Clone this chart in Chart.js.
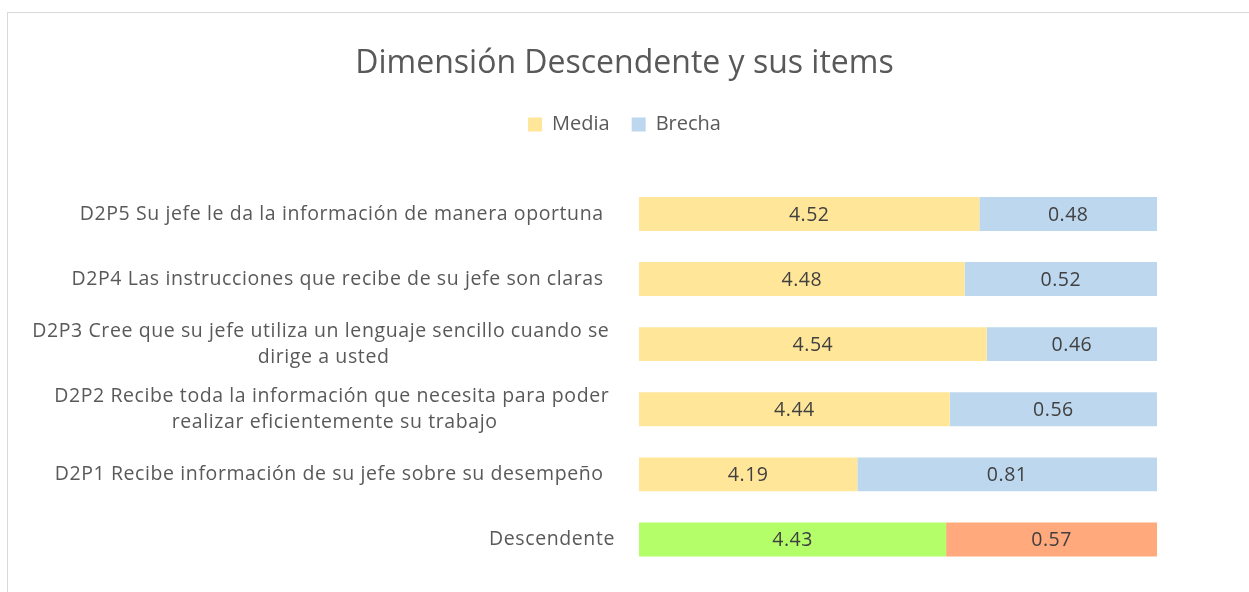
<!DOCTYPE html>
<html>
<head>
<meta charset="utf-8">
<script src="https://cdn.jsdelivr.net/npm/chart.js@4"></script>
<style>
    html, body { margin: 0; padding: 0; background: #ffffff; }
    #wrap { position: relative; width: 1249px; height: 592px; overflow: hidden; }
    #frame { position: absolute; left: 7px; top: 12px; width: 1300px; height: 700px; border: 1px solid #d9d9d9; box-sizing: border-box; }
    canvas { position: absolute; left: 0; top: 0; }
</style>
</head>
<body>
<div id="wrap">
    <div id="frame"></div>
    <canvas id="chart" width="1249" height="592"></canvas>
</div>
<script>
const categories = [
    ["D2P5 Su jefe le da la información de manera oportuna  "],
    ["D2P4 Las instrucciones que recibe de su jefe son claras  "],
    ["D2P3 Cree que su jefe utiliza un lenguaje sencillo cuando se ", "dirige a usted"],
    ["D2P2 Recibe toda la información que necesita para poder ", "realizar eficientemente su trabajo"],
    ["D2P1 Recibe información de su jefe sobre su desempeño  "],
    ["Descendente"]
];
const mediaValues = [4.52, 4.48, 4.54, 4.44, 4.19, 4.43];
const brechaValues = [0.48, 0.52, 0.46, 0.56, 0.81, 0.57];
const axisMin = 3.6;
const axisMax = 5;

const FONT = '"Open Sans"';
const mediaColors = ['#FFE699', '#FFE699', '#FFE699', '#FFE699', '#FFE699', '#B4FF69'];
const brechaColors = ['#BDD7EE', '#BDD7EE', '#BDD7EE', '#BDD7EE', '#BDD7EE', '#FFA97D'];

// Category labels: block right-aligned, lines centred within the block (like Excel wrapping)
const categoryLabels = {
    id: 'categoryLabels',
    afterDraw(chart) {
        const ctx = chart.ctx;
        const yScale = chart.scales.y;
        const right = chart.chartArea.left - 24;
        const lineHeight = 26;
        ctx.save();
        ctx.font = '19.5px ' + FONT;
        ctx.letterSpacing = '0.6px';
        ctx.fillStyle = '#595959';
        ctx.textAlign = 'center';
        ctx.textBaseline = 'middle';
        categories.forEach((lines, i) => {
            const y = yScale.getPixelForTick(i);
            const blockWidth = Math.max(...lines.map(l => ctx.measureText(l).width));
            const cx = right - blockWidth / 2;
            const top = y - (lines.length - 1) * lineHeight / 2;
            lines.forEach((l, j) => {
                const w = ctx.measureText(l.trimEnd()).width;
                const lw = ctx.measureText(l).width;
                // keep trailing space offset
                ctx.fillText(l.trimEnd(), cx - (lw - w) / 2, top + j * lineHeight);
            });
        });
        ctx.restore();
    }
};

// Value labels centred in the visible part of each bar segment
const valueLabels = {
    id: 'valueLabels',
    afterDatasetsDraw(chart) {
        const ctx = chart.ctx;
        const left = chart.chartArea.left;
        ctx.save();
        ctx.font = '19.5px ' + FONT;
        ctx.letterSpacing = '0.5px';
        ctx.fillStyle = '#404040';
        ctx.textAlign = 'center';
        ctx.textBaseline = 'middle';
        chart.data.datasets.forEach((ds, di) => {
            chart.getDatasetMeta(di).data.forEach((bar, i) => {
                const x0 = Math.max(bar.base, left);
                const x1 = bar.x;
                ctx.fillText(ds.data[i].toFixed(2), (x0 + x1) / 2, bar.y + 1);
            });
        });
        ctx.restore();
    }
};

new Chart(document.getElementById('chart'), {
    type: 'bar',
    data: {
        labels: categories,
        datasets: [
            {
                label: 'Media',
                data: mediaValues,
                backgroundColor: mediaColors,
                borderWidth: 0,
                categoryPercentage: 1,
                barPercentage: 0.52
            },
            {
                label: 'Brecha',
                data: brechaValues,
                backgroundColor: brechaColors,
                borderWidth: 0,
                categoryPercentage: 1,
                barPercentage: 0.52
            }
        ]
    },
    options: {
        indexAxis: 'y',
        responsive: false,
        animation: false,
        layout: { padding: { left: 0, right: 0, top: 0, bottom: 20 } },
        plugins: {
            title: {
                display: true,
                text: 'Dimensión Descendente y sus items',
                color: '#595959',
                font: { family: FONT, size: 32, weight: 'normal' },
                padding: { top: 45, bottom: 9 }
            },
            legend: {
                display: true,
                position: 'top',
                labels: {
                    color: '#595959',
                    font: { family: FONT, size: 20 },
                    boxWidth: 14,
                    boxHeight: 14,
                    padding: 22,
                    generateLabels() {
                        return [
                            { text: 'Media', fillStyle: '#FFE699', strokeStyle: '#FFE699', lineWidth: 0, fontColor: '#595959', datasetIndex: 0 },
                            { text: 'Brecha', fillStyle: '#BDD7EE', strokeStyle: '#BDD7EE', lineWidth: 0, fontColor: '#595959', datasetIndex: 1 }
                        ];
                    }
                }
            },
            tooltip: { enabled: false }
        },
        scales: {
            x: {
                stacked: true,
                position: 'top',
                min: axisMin,
                max: axisMax,
                grid: { display: false },
                border: { display: false },
                ticks: { display: false },
                afterFit(scale) { scale.height = 37; }
            },
            y: {
                stacked: true,
                grid: { display: false },
                border: { display: false },
                ticks: { display: false },
                afterFit(scale) { scale.width = 639; }
            },
            // empty right-hand axis keeps the bars off the right edge without shifting title/legend
            yRight: {
                type: 'category',
                position: 'right',
                grid: { display: false },
                border: { display: false },
                ticks: { display: false },
                afterFit(scale) { scale.width = 92; }
            }
        }
    },
    plugins: [categoryLabels, valueLabels]
});
</script>
</body>
</html>
